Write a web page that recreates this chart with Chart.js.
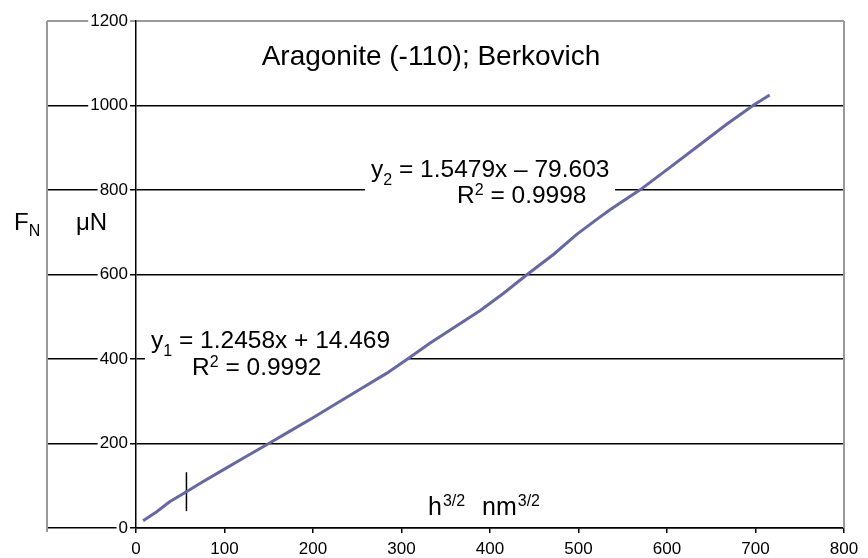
<!DOCTYPE html>
<html>
<head>
<meta charset="utf-8">
<script src="https://cdn.jsdelivr.net/npm/chart.js@4.4.1/dist/chart.umd.min.js"></script>
<style>
  body { margin: 0; background: #fff; }
  .ChartWrapper { width: 868px; height: 558px; }
</style>
</head>
<body>
<div class="ChartWrapper"><canvas id="IndentPlot" width="868" height="558"></canvas></div>
<script>
// load vs h^(3/2)
const hValues = [8, 23, 38, 57, 75, 98, 121, 150, 173, 200, 226, 256, 283, 306, 332, 362, 389, 415, 442, 472, 498, 521, 536, 570, 603, 637, 667, 698, 716]
const forceValues = [17, 38, 62, 86, 109, 137, 165, 200, 228, 261, 294, 332, 366, 399, 437, 478, 515, 555, 600, 648, 695, 731, 754, 801, 853, 907, 955, 1001, 1025]

// little marker where the first fit ends
const markerX = [57, 57]
const markerY = [40, 132]

const xTicks = [0, 100, 200, 300, 400, 500, 600, 700, 800]
const yTicks = [0, 200, 400, 600, 800, 1000, 1200]

const titleText = 'Aragonite (-110); Berkovich'
const fit1 = { eq: ['y', '1', ' = 1.2458x + 14.469'], r2: '0.9992' }
const fit2 = { eq: ['y', '2', ' = 1.5479x \u2013 79.603'], r2: '0.9998' }

const FONT = 'Arial, "Liberation Sans", sans-serif'

const toPoints = (xs, ys) => xs.map((x, i) => ({ x: x, y: ys[i] }))

// draws sub/superscript text pieces one after another
const drawPieces = (ctx, x, y, pieces) => {
    pieces.forEach(p => {
        ctx.font = p.size + 'px ' + FONT
        ctx.fillText(p.t, x, y + (p.dy || 0))
        x += ctx.measureText(p.t).width + (p.gap || 0)
    })
}

const textPlugin = {
    id: 'texts',
    beforeDatasetsDraw(chart) {
        const ctx = chart.ctx
        ctx.save()
        // white boxes behind the fit labels
        ctx.fillStyle = '#fff'
        ctx.fillRect(145, 326, 264, 56)
        ctx.fillRect(365, 153, 250, 56)
        ctx.restore()
    },
    afterDraw(chart) {
        const ctx = chart.ctx
        const { right, top, bottom } = chart.chartArea
        ctx.save()
        // grey frame
        ctx.strokeStyle = '#999'
        ctx.lineWidth = 2
        ctx.beginPath()
        ctx.moveTo(47, bottom + 4)
        ctx.lineTo(47, top)
        ctx.moveTo(right, top)
        ctx.lineTo(right, bottom)
        ctx.stroke()

        ctx.fillStyle = '#000'
        ctx.textBaseline = 'alphabetic'

        ctx.font = '28px ' + FONT
        ctx.textAlign = 'center'
        ctx.fillText(titleText, 431, 65)
        ctx.textAlign = 'left'

        drawPieces(ctx, 14, 230, [{ t: 'F', size: 24 }, { t: 'N', size: 16, dy: 6 }])
        drawPieces(ctx, 76, 230, [{ t: '\u03bcN', size: 24 }])

        drawPieces(ctx, 428, 515, [{ t: 'h', size: 25, gap: 1 }, { t: '3/2', size: 16, dy: -9 }])
        drawPieces(ctx, 482, 515, [{ t: 'nm', size: 25, gap: 1 }, { t: '3/2', size: 16, dy: -9 }])

        drawPieces(ctx, 151, 348, [{ t: fit1.eq[0], size: 24.5 }, { t: fit1.eq[1], size: 16, dy: 8 }, { t: fit1.eq[2], size: 24.5 }])
        drawPieces(ctx, 192, 375, [{ t: 'R', size: 24.5 }, { t: '2', size: 16, dy: -8 }, { t: ' = ' + fit1.r2, size: 24.5 }])

        drawPieces(ctx, 371, 177, [{ t: fit2.eq[0], size: 24.5 }, { t: fit2.eq[1], size: 16, dy: 8 }, { t: fit2.eq[2], size: 24.5 }])
        drawPieces(ctx, 457, 203, [{ t: 'R', size: 24.5 }, { t: '2', size: 16, dy: -8 }, { t: ' = ' + fit2.r2, size: 24.5 }])
        ctx.restore()
    }
}

new Chart(document.getElementById('IndentPlot'), {
    type: 'scatter',
    data: {
        datasets: [{
            label: 'Aragonite',
            data: toPoints(hValues, forceValues),
            showLine: true,
            borderColor: '#6767a6',
            borderWidth: 3,
            pointRadius: 0,
            tension: 0
        }, {
            label: 'marker',
            data: toPoints(markerX, markerY),
            showLine: true,
            borderColor: '#000',
            borderWidth: 1.5,
            pointRadius: 0
        }]
    },
    options: {
        responsive: false,
        animation: false,
        events: [],
        layout: { padding: { left: 0, right: 24, top: 21, bottom: 0 } },
        plugins: { legend: { display: false }, tooltip: { enabled: false } },
        scales: {
            x: {
                type: 'linear',
                min: 0,
                max: 800,
                afterBuildTicks: s => { s.ticks = xTicks.map(v => ({ value: v })) },
                afterFit: s => { s.height = 30 },
                border: { color: '#000', width: 1.5 },
                grid: { drawOnChartArea: false, drawTicks: true, tickLength: 5, color: '#000', lineWidth: 1.5 },
                ticks: { color: '#000', font: { family: FONT, size: 17 }, padding: 6, maxRotation: 0, callback: v => String(v) }
            },
            y: {
                type: 'linear',
                min: 0,
                max: 1200,
                afterBuildTicks: s => { s.ticks = yTicks.map(v => ({ value: v })) },
                afterFit: s => { s.width = 136 },
                border: { color: '#000', width: 1.5 },
                grid: {
                    tickLength: 89,
                    color: c => c.tick && c.tick.value === 1200 ? '#999' : '#000',
                    lineWidth: c => c.tick && c.tick.value === 1200 ? 2 : 1.5
                },
                ticks: {
                    color: '#000',
                    font: { family: FONT, size: 17 },
                    padding: -81,
                    showLabelBackdrop: true,
                    backdropColor: '#fff',
                    backdropPadding: { x: 2, y: 0 },
                    callback: v => String(v)
                }
            }
        }
    },
    plugins: [textPlugin]
})
</script>
</body>
</html>
